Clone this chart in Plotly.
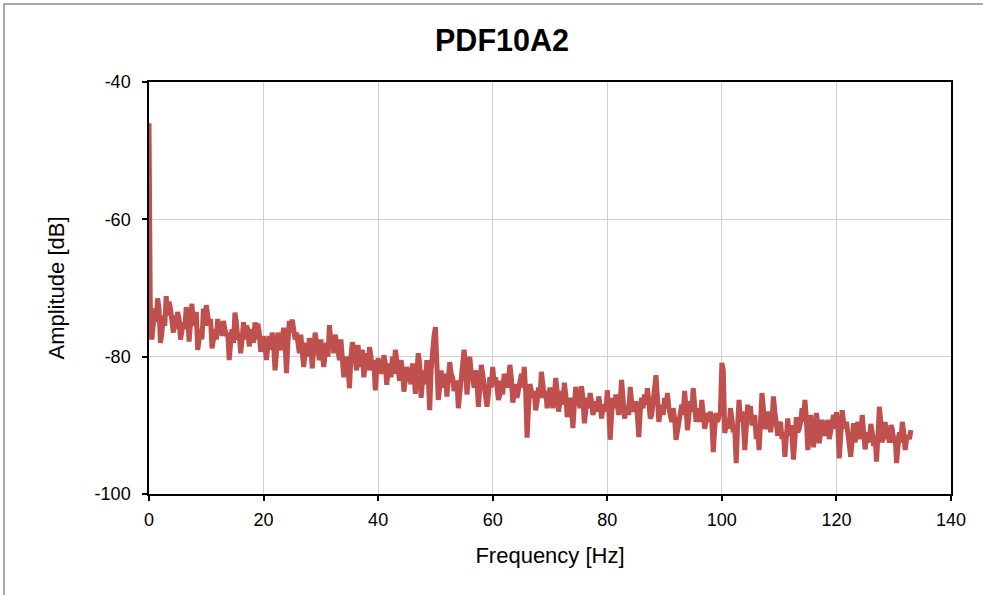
import plotly.graph_objects as go

title_text = "PDF10A2"
x_title = "Frequency [Hz]"
y_title = "Amplitude [dB]"
x_ticks = [0, 20, 40, 60, 80, 100, 120, 140]
x_tick_labels = ["0", "20", "40", "60", "80", "100", "120", "140"]
y_ticks = [-100, -80, -60, -40]
y_tick_labels = ["-100", "-80", "-60", "-40"]

# spectrum bins on the half-hertz grid
freq_hz = [
    0, 0.5, 1, 1.5, 2, 2.5, 3, 3.5, 4, 4.5, 5, 5.5, 6, 6.5, 7, 7.5, 8, 8.5, 9, 9.5,
    10, 10.5, 11, 11.5, 12, 12.5, 13, 13.5, 14, 14.5, 15, 15.5, 16, 16.5, 17, 17.5, 18, 18.5, 19, 19.5,
    20, 20.5, 21, 21.5, 22, 22.5, 23, 23.5, 24, 24.5, 25, 25.5, 26, 26.5, 27, 27.5, 28, 28.5, 29, 29.5,
    30, 30.5, 31, 31.5, 32, 32.5, 33, 33.5, 34, 34.5, 35, 35.5, 36, 36.5, 37, 37.5, 38, 38.5, 39, 39.5,
    40, 40.5, 41, 41.5, 42, 42.5, 43, 43.5, 44, 44.5, 45, 45.5, 46, 46.5, 47, 47.5, 48, 48.5, 49, 49.5,
    50, 50.5, 51, 51.5, 52, 52.5, 53, 53.5, 54, 54.5, 55, 55.5, 56, 56.5, 57, 57.5, 58, 58.5, 59, 59.5,
    60, 60.5, 61, 61.5, 62, 62.5, 63, 63.5, 64, 64.5, 65, 65.5, 66, 66.5, 67, 67.5, 68, 68.5, 69, 69.5,
    70, 70.5, 71, 71.5, 72, 72.5, 73, 73.5, 74, 74.5, 75, 75.5, 76, 76.5, 77, 77.5, 78, 78.5, 79, 79.5,
    80, 80.5, 81, 81.5, 82, 82.5, 83, 83.5, 84, 84.5, 85, 85.5, 86, 86.5, 87, 87.5, 88, 88.5, 89, 89.5,
    90, 90.5, 91, 91.5, 92, 92.5, 93, 93.5, 94, 94.5, 95, 95.5, 96, 96.5, 97, 97.5, 98, 98.5, 99, 99.5,
    100, 100.5, 101, 101.5, 102, 102.5, 103, 103.5, 104, 104.5, 105, 105.5, 106, 106.5, 107, 107.5, 108, 108.5, 109, 109.5,
    110, 110.5, 111, 111.5, 112, 112.5, 113, 113.5, 114, 114.5, 115, 115.5, 116, 116.5, 117, 117.5, 118, 118.5, 119, 119.5,
    120, 120.5, 121, 121.5, 122, 122.5, 123, 123.5, 124, 124.5, 125, 125.5, 126, 126.5, 127, 127.5, 128, 128.5, 129, 129.5,
    130, 130.5, 131, 131.5, 132, 132.5, 133,
]

amplitude_db = [
    -46, -77.5, -73, -71.5, -78, -74, -71.2, -72, -75.5, -74, -73.5, -77.5, -75, -72.8, -77.8, -72.3, -74, -79, -76, -73,
    -72.5, -75.5, -78.8, -76, -74.5, -75, -74.8, -77, -80.5, -76, -73.6, -77.5, -79.5, -75, -75.5, -78.5, -76, -75, -75.2, -79.3,
    -77, -80.5, -77, -76.5, -82, -76.5, -79, -75.8, -82.4, -74.8, -74.6, -77.5, -78, -76.8, -81.5, -78, -77.3, -81.7, -76.5, -79,
    -77.5, -81.5, -78, -75.4, -77, -76.8, -79, -77.5, -83, -80, -84.6, -77.9, -80.5, -78.3, -80, -83, -79.5, -78.6, -82, -84.9,
    -80.2, -81, -79.8, -84.1, -81, -80, -79, -82.5, -80.5, -85.1, -81.5, -83.5, -81, -85.4, -79.5, -86, -82, -80.5, -87.8, -78,
    -75.7, -86.3, -82, -83, -85.8, -80.8, -83, -84, -87.5, -83, -79, -85.5, -80, -83, -82, -87.3, -81.2, -84, -87.3, -83,
    -81.5, -83, -86.3, -83.5, -82.5, -84.5, -81.2, -86.7, -84, -85, -82.5, -81.5, -91.8, -84, -86, -87.8, -84.5, -82.2, -86, -87.5,
    -84.5, -87.5, -83.1, -88, -85, -83.8, -88.8, -86, -90.4, -84.4, -86.5, -84.3, -89.7, -86, -85.3, -88.5, -86.5, -85.8, -89, -87,
    -84.9, -92.1, -86, -85.5, -88.5, -83.4, -89, -87, -84.4, -88, -86.5, -91.7, -86, -85.5, -84.6, -89, -87, -82.7, -89.5, -87,
    -86, -85.3, -88.5, -87.5, -92.1, -89.5, -87, -85, -90.7, -86.5, -84.6, -89.5, -88.5, -86.3, -90.5, -88.2, -88, -93.9, -88.2, -88.5,
    -80.9, -91.1, -89, -87.5, -91, -95.5, -86.3, -88, -93.6, -87, -87.2, -89.5, -92, -93.6, -85.3, -90.5, -88, -91, -85.8, -89.5,
    -90, -92, -94.6, -89, -90, -95, -88.8, -90.5, -87.5, -86.3, -93.6, -88.5, -93.2, -88.2, -92.6, -89.2, -91.5, -89.2, -91, -88.5,
    -88.1, -94.8, -87.8, -90.5, -91.5, -94.6, -89.7, -91, -90.5, -88.5, -93.5, -91, -89.8, -93, -95.3, -87.3, -92.5, -89.5, -91.5, -90,
    -92.5, -95.5, -91, -89.5, -93.6, -91.5, -90.7,
]

# the in-between bins (quarter-hertz offsets)
freq_mid_hz = [
    0.25, 0.75, 1.25, 1.75, 2.25, 2.75, 3.25, 3.75, 4.25, 4.75, 5.25, 5.75, 6.25, 6.75, 7.25, 7.75, 8.25, 8.75, 9.25, 9.75,
    10.25, 10.75, 11.25, 11.75, 12.25, 12.75, 13.25, 13.75, 14.25, 14.75, 15.25, 15.75, 16.25, 16.75, 17.25, 17.75, 18.25, 18.75, 19.25, 19.75,
    20.25, 20.75, 21.25, 21.75, 22.25, 22.75, 23.25, 23.75, 24.25, 24.75, 25.25, 25.75, 26.25, 26.75, 27.25, 27.75, 28.25, 28.75, 29.25, 29.75,
    30.25, 30.75, 31.25, 31.75, 32.25, 32.75, 33.25, 33.75, 34.25, 34.75, 35.25, 35.75, 36.25, 36.75, 37.25, 37.75, 38.25, 38.75, 39.25, 39.75,
    40.25, 40.75, 41.25, 41.75, 42.25, 42.75, 43.25, 43.75, 44.25, 44.75, 45.25, 45.75, 46.25, 46.75, 47.25, 47.75, 48.25, 48.75, 49.25, 49.75,
    50.25, 50.75, 51.25, 51.75, 52.25, 52.75, 53.25, 53.75, 54.25, 54.75, 55.25, 55.75, 56.25, 56.75, 57.25, 57.75, 58.25, 58.75, 59.25, 59.75,
    60.25, 60.75, 61.25, 61.75, 62.25, 62.75, 63.25, 63.75, 64.25, 64.75, 65.25, 65.75, 66.25, 66.75, 67.25, 67.75, 68.25, 68.75, 69.25, 69.75,
    70.25, 70.75, 71.25, 71.75, 72.25, 72.75, 73.25, 73.75, 74.25, 74.75, 75.25, 75.75, 76.25, 76.75, 77.25, 77.75, 78.25, 78.75, 79.25, 79.75,
    80.25, 80.75, 81.25, 81.75, 82.25, 82.75, 83.25, 83.75, 84.25, 84.75, 85.25, 85.75, 86.25, 86.75, 87.25, 87.75, 88.25, 88.75, 89.25, 89.75,
    90.25, 90.75, 91.25, 91.75, 92.25, 92.75, 93.25, 93.75, 94.25, 94.75, 95.25, 95.75, 96.25, 96.75, 97.25, 97.75, 98.25, 98.75, 99.25, 99.75,
    100.25, 100.75, 101.25, 101.75, 102.25, 102.75, 103.25, 103.75, 104.25, 104.75, 105.25, 105.75, 106.25, 106.75, 107.25, 107.75, 108.25, 108.75, 109.25, 109.75,
    110.25, 110.75, 111.25, 111.75, 112.25, 112.75, 113.25, 113.75, 114.25, 114.75, 115.25, 115.75, 116.25, 116.75, 117.25, 117.75, 118.25, 118.75, 119.25, 119.75,
    120.25, 120.75, 121.25, 121.75, 122.25, 122.75, 123.25, 123.75, 124.25, 124.75, 125.25, 125.75, 126.25, 126.75, 127.25, 127.75, 128.25, 128.75, 129.25, 129.75,
    130.25, 130.75, 131.25, 131.75, 132.25, 132.75,
]

amplitude_mid_db = [
    -76, -74.5, -75, -73, -76.5, -75.5, -74, -73, -76.5, -76, -74.5, -76.5, -76, -74, -75, -75.5, -73.5, -77, -77.5, -75.5,
    -74, -74.5, -77.5, -77.5, -76.5, -77, -76, -76.5, -78, -78, -75, -76.5, -77.5, -77.5, -76, -77, -78, -77.5, -76.5, -78,
    -78.5, -78.5, -79, -78, -79.5, -78.5, -77.5, -78, -78, -76.5, -76, -76.5, -79.5, -78.5, -79.5, -80, -78.5, -79, -78, -80.5,
    -79, -79.5, -80, -78, -79.5, -78, -80.5, -79.5, -81.5, -81.5, -80, -79, -82, -81.5, -79, -81, -82, -80, -80.5, -82,
    -82.5, -82.5, -81, -82, -83, -82.5, -80.5, -83.5, -82, -83, -82.5, -84, -82.5, -82, -81, -83.5, -84, -83, -82, -77,
    -80, -84.5, -84.5, -82.5, -83.5, -82.5, -85, -83.5, -85, -82, -81.5, -83, -82.5, -84.5, -83.5, -84.5, -82.5, -85, -85.5, -84.5,
    -84, -84.5, -85.5, -85.5, -83.5, -83.5, -83, -85.5, -86, -84, -84.5, -85, -87.5, -85, -85, -86.5, -86, -84, -85, -86,
    -86, -85.5, -85, -86.5, -87, -85.5, -87, -87.5, -87, -85.5, -87.5, -86, -87.5, -87.5, -86.5, -87.5, -88, -87, -87.5, -88,
    -87.5, -88.5, -87.5, -87, -86.5, -86, -88, -88.5, -86.5, -87.5, -88.5, -88, -87.5, -87, -86.5, -88.5, -85.5, -86, -88, -88.5,
    -87.5, -87.5, -89.5, -89, -90.5, -88.5, -88.5, -87.5, -88.5, -88, -87, -87.5, -89.5, -88, -89.5, -89.5, -89.5, -90.5, -89.5, -88,
    -82, -89.5, -90.5, -89, -90.5, -90, -89.5, -89.5, -90.5, -89.5, -90, -88.5, -90.5, -89.5, -87.5, -90, -89, -89.5, -88, -91.5,
    -89.5, -91, -92, -91.5, -91.5, -92, -91, -89.5, -89.5, -89, -91, -90.5, -91, -90, -91, -90.5, -90.5, -92, -90, -90.5,
    -90.5, -91.5, -89.5, -89.5, -92.5, -92, -92.5, -89.5, -92, -90.5, -92, -92.5, -91, -91.5, -91.5, -89.5, -91, -92, -92.5, -90.5,
    -91.5, -93, -92.5, -91, -92, -92,
]

FONT = "Liberation Sans, Arial, sans-serif"

FIG_W, FIG_H = 983, 595
PLOT_L, PLOT_T, PLOT_R, PLOT_B = 149, 82, 951, 494

# merge the two bin sets into one frequency-ordered trace
spectrum = sorted(zip(freq_hz + freq_mid_hz, amplitude_db + amplitude_mid_db))
x_all = [p[0] for p in spectrum]
y_all = [p[1] for p in spectrum]

fig = go.Figure()
fig.add_trace(go.Scatter(
    x=x_all, y=y_all, mode="lines",
    line=dict(color="#C0504D", width=5),
    showlegend=False, hoverinfo="x+y",
))

axis_common = dict(
    showgrid=True, gridcolor="#D0D0D0", gridwidth=1,
    showline=True, linecolor="black", linewidth=1.5, mirror=True,
    ticks="outside", ticklen=5, tickcolor="black", tickwidth=1.5,
    zeroline=False,
    tickfont=dict(family=FONT, size=18, color="black"),
)

pw = PLOT_R - PLOT_L
ph = PLOT_B - PLOT_T

fig.update_layout(
    width=FIG_W, height=FIG_H,
    margin=dict(l=PLOT_L, r=FIG_W - PLOT_R, t=PLOT_T, b=FIG_H - PLOT_B),
    paper_bgcolor="white", plot_bgcolor="white",
    font=dict(family=FONT, color="black"),
    title=dict(text="<b>" + title_text + "</b>", x=502 / FIG_W, xref="container", xanchor="center",
               y=1 - 40 / FIG_H, yref="container", yanchor="middle",
               font=dict(family=FONT, size=30.5, color="black")),
    xaxis=dict(range=[0, 140], tickvals=x_ticks, ticktext=x_tick_labels,
               ticklabelstandoff=4,
               title=dict(text=x_title, font=dict(family=FONT, size=22), standoff=18),
               **axis_common),
    yaxis=dict(range=[-100, -40], tickvals=y_ticks, ticktext=y_tick_labels,
               ticklabelstandoff=8,
               title=dict(text=y_title, font=dict(family=FONT, size=22), standoff=24),
               **axis_common),
    shapes=[dict(type="rect", xref="paper", yref="paper",
                 x0=(4 - PLOT_L) / pw, x1=(FIG_W + 20 - PLOT_L) / pw,
                 y0=(PLOT_B - FIG_H - 20) / ph, y1=1 + (PLOT_T - 4) / ph,
                 line=dict(color="#8C8C8C", width=1.5), fillcolor="rgba(0,0,0,0)",
                 layer="below")],
)

fig.write_html("out.html", config={"displayModeBar": False},
               post_script="document.body.style.margin='0';")
